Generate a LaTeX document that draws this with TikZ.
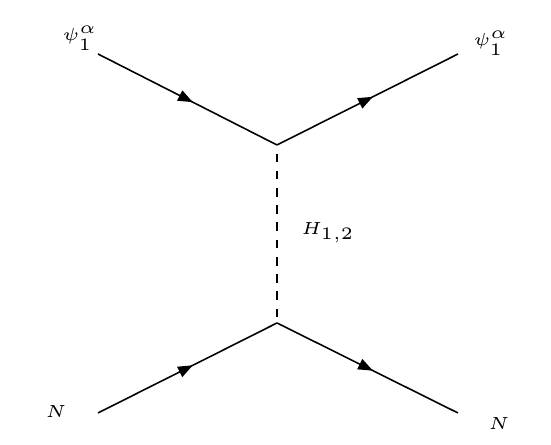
\documentclass[tikz,border=0pt]{standalone}
\usetikzlibrary{arrows.meta,decorations.markings}
\begin{document}
\begin{tikzpicture}[x=0.2857pt,y=-0.2857pt,
  fermion/.style={line width=0.45pt,postaction={decorate},
    decoration={markings,mark=at position 0.53 with {\arrow{Triangle[length=4.2pt,width=3.2pt]}}}},
  scalar/.style={line width=0.45pt,dash pattern=on 2.46pt off 2.46pt,dash phase=2.46pt},
  lbl/.style={inner sep=0pt,font=\tiny}]
\useasboundingbox (0,0) rectangle (551,445);
\coordinate (i1) at (98,54);
\coordinate (o1) at (458,54);
\coordinate (v1) at (277,145);
\coordinate (v2) at (277,323);
\coordinate (i2) at (98,413);
\coordinate (o2) at (458,413);
\draw[fermion] (i1) -- (v1);
\draw[fermion] (v1) -- (o1);
\draw[fermion] (i2) -- (v2);
\draw[fermion] (v2) -- (o2);
\draw[scalar] (v1) -- (v2);
\node[lbl] (l1) at (80,38) {$\psi_1^\alpha$};
\node[lbl] (l2) at (491,43) {$\psi_1^\alpha$};
\node[lbl] (lh) at (328,233) {$H_{1,2}$};
\node[lbl] (l3) at (56,412) {$N$};
\node[lbl] (l4) at (499,424) {$N$};
\end{tikzpicture}
\end{document}
